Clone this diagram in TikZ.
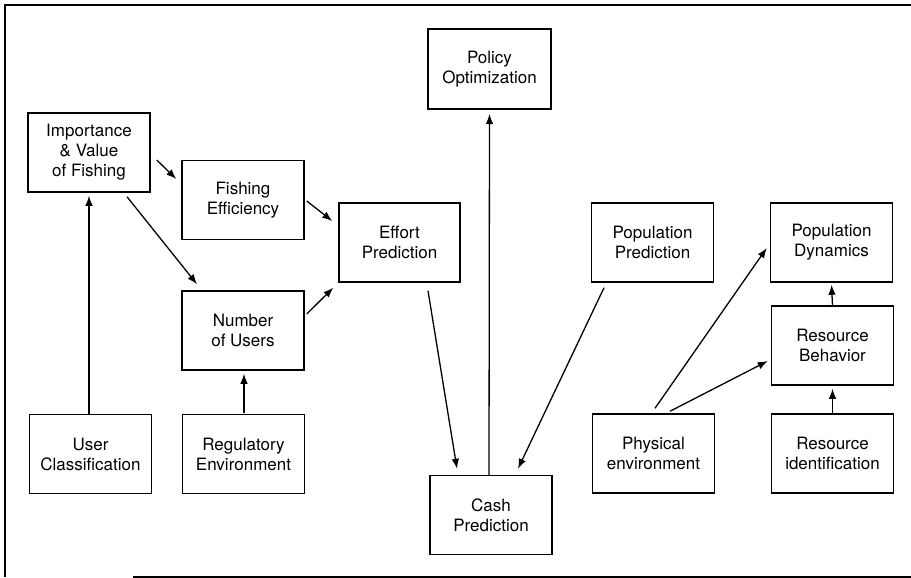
\documentclass[tikz,border=0pt]{standalone}
\usepackage{fontspec}
\setmainfont{TeX Gyre Heros}
\usetikzlibrary{arrows.meta}
\tikzset{
  box/.style={draw, line width=1.5pt, minimum width=122pt, minimum height=79pt,
    inner sep=0pt, align=center, font=\fontsize{17}{20}\selectfont},
  arr/.style={line width=1.3pt, -{Latex[length=10pt,width=7.5pt]}},
  frame/.style={line width=1.5pt}
}
\begin{document}
\begin{tikzpicture}[x=1pt,y=-1pt]
\useasboundingbox (0,0) rectangle (911,578);
\draw[frame] (5,577) -- (5,5) -- (911,5);
\draw[frame] (133,577) -- (911,577);

\node[box] (imp) at (89,152.5) {Importance\\\& Value\\of Fishing};
\node[box] (feff) at (243,200) {Fishing\\Efficiency};
\node[box, minimum width=121pt] (effort) at (399.5,242.5) {Effort\\Prediction};
\node[box, line width=2pt, minimum width=123pt, minimum height=80pt] (pol) at (489.5,69) {Policy\\Optimization};
\node[box] (popp) at (652.5,242.5) {Population\\Prediction};
\node[box] (popd) at (831.5,242.5) {Population\\Dynamics};
\node[box] (nusers) at (243,330.5) {Number\\of Users};
\node[box] (ucls) at (90.5,454) {User\\Classification};
\node[box] (reg) at (243.5,454) {Regulatory\\Environment};
\node[box] (cash) at (491,515) {Cash\\Prediction};
\node[box] (phys) at (653.5,453.5) {Physical\\environment};
\node[box] (rbeh) at (832.5,345.5) {Resource\\Behavior};
\node[box] (rid) at (832.5,453.5) {Resource\\identification};

\draw[arr] ([shift={(6,7.5)}]imp.east) -- ([shift={(-5,-21)}]feff.west);
\draw[arr] ([shift={(38,4)}]imp.south) -- ([shift={(-46,-6)}]nusers.north);
\draw[arr] ([shift={(-1.5,0)}]ucls.north) -- ([shift={(0,3)}]imp.south);
\draw[arr] ([shift={(2,1)}]feff.east) -- ([shift={(-6,-21.5)}]effort.west);
\draw[arr] ([shift={(2,-16.5)}]nusers.east) -- ([shift={(-5,5)}]effort.south west);
\draw[arr] ([shift={(0.5,-1)}]reg.north) -- ([shift={(1,3)}]nusers.south);
\draw[arr] ([shift={(28.5,8)}]effort.south) -- ([shift={(-34,-6)}]cash.north);
\draw[arr] ([shift={(-2,0)}]cash.north) -- ([shift={(0,4)}]pol.south);
\draw[arr] ([shift={(-48.5,5)}]popp.south) -- ([shift={(27,-6)}]cash.north);
\draw[arr] ([shift={(1.5,-5)}]phys.north) -- ([shift={(-3,5.5)}]popd.west);
\draw[arr] ([shift={(16.5,-2)}]phys.north) -- ([shift={(-3,15.5)}]rbeh.west);
\draw[arr] (rbeh.north) -- ([shift={(0,2)}]popd.south);
\draw[arr] (rid.north) -- ([shift={(0,3)}]rbeh.south);
\end{tikzpicture}
\end{document}
